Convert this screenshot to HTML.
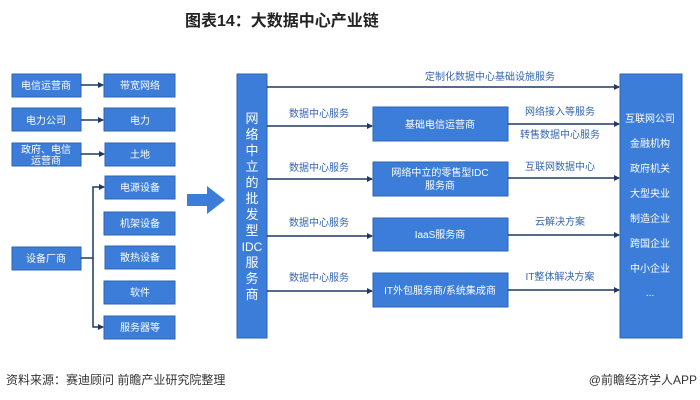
<!DOCTYPE html>
<html><head><meta charset="utf-8"><style>
body{margin:0;background:#fff;}
svg{display:block;font-family:"Liberation Sans","Noto Sans CJK SC",sans-serif;}
</style></head><body>
<svg width="700" height="400" viewBox="0 0 700 400">
<defs>
<marker id="a" markerWidth="6" markerHeight="6" refX="5" refY="3" orient="auto" markerUnits="userSpaceOnUse"><path d="M0,0 L6,3 L0,6 z" fill="#1f3864"/></marker>
</defs>
<text x="185" y="26" font-size="16" font-weight="bold" fill="#222">图表14：大数据中心产业链</text>
<g fill="#3b7dd8" stroke="#2e64b0" stroke-width="1">
<rect x="12" y="74" width="69" height="23"/>
<rect x="12" y="108" width="69" height="23"/>
<rect x="12" y="143" width="69" height="23"/>
<rect x="12" y="247" width="69" height="23"/>
<rect x="104" y="74" width="71" height="23"/>
<rect x="104" y="108" width="71" height="23"/>
<rect x="105" y="143" width="70" height="23"/>
<rect x="105" y="176" width="70" height="23"/>
<rect x="104" y="212" width="71" height="23"/>
<rect x="105" y="246" width="70" height="23"/>
<rect x="104" y="281" width="71" height="23"/>
<rect x="104" y="316" width="71" height="23"/>
<rect x="237" y="74" width="30" height="264"/>
<rect x="620" y="74" width="62" height="264"/>
<rect x="373" y="107" width="135" height="34"/>
<rect x="373" y="162" width="135" height="34"/>
<rect x="373" y="218" width="135" height="33"/>
<rect x="373" y="273" width="135" height="34"/>
</g>
<path d="M187,194 H207 V186 L225,200 L207,214 V206 H187 z" fill="#3b7dd8"/>
<g stroke="#1f3864" stroke-width="1.5" fill="none" marker-end="url(#a)">
<line x1="81" y1="85" x2="103" y2="85"/>
<line x1="81" y1="120" x2="103" y2="120"/>
<line x1="81" y1="154" x2="104" y2="154"/>
<path d="M81,258 H93 V187 H104"/>
<path d="M93,258 V327 H103"/>
<line x1="267" y1="87" x2="619" y2="87"/>
<line x1="267" y1="126" x2="372" y2="126"/>
<line x1="267" y1="179" x2="372" y2="179"/>
<line x1="267" y1="236" x2="372" y2="236"/>
<line x1="267" y1="291" x2="372" y2="291"/>
<line x1="508" y1="124" x2="619" y2="124"/>
<line x1="508" y1="178" x2="619" y2="178"/>
<line x1="508" y1="235" x2="619" y2="235"/>
<line x1="508" y1="290" x2="619" y2="290"/>
</g>
<g fill="#fff" font-size="10" text-anchor="middle">
<text x="46" y="89">电信运营商</text>
<text x="46" y="124">电力公司</text>
<text x="46" y="153">政府、电信</text>
<text x="46" y="164">运营商</text>
<text x="46" y="262">设备厂商</text>
<text x="140" y="89">带宽网络</text>
<text x="140" y="124">电力</text>
<text x="140" y="158">土地</text>
<text x="140" y="191">电源设备</text>
<text x="140" y="227">机架设备</text>
<text x="140" y="261">散热设备</text>
<text x="140" y="296">软件</text>
<text x="140" y="331">服务器等</text>
<text x="440" y="128">基础电信运营商</text>
<text x="440" y="176">网络中立的零售型IDC</text>
<text x="440" y="189">服务商</text>
<text x="440" y="238">IaaS服务商</text>
<text x="440" y="294">IT外包服务商/系统集成商</text>
<text x="650" y="122">互联网公司</text>
<text x="650" y="147">金融机构</text>
<text x="650" y="172">政府机关</text>
<text x="650" y="197">大型央业</text>
<text x="650" y="222">制造企业</text>
<text x="650" y="247">跨国企业</text>
<text x="650" y="272">中小企业</text>
<text x="650" y="296">...</text>
</g>
<g fill="#fff" font-size="13" text-anchor="middle">
<text x="252" y="123">网</text><text x="252" y="139">络</text><text x="252" y="155">中</text><text x="252" y="171">立</text><text x="252" y="187">的</text><text x="252" y="203">批</text><text x="252" y="219">发</text><text x="252" y="235">型</text><text x="252" y="251" font-size="12">IDC</text><text x="252" y="267">服</text><text x="252" y="283">务</text><text x="252" y="299">商</text>
</g>
<g fill="#3566b0" font-size="10" text-anchor="middle">
<text x="490" y="80">定制化数据中心基础设施服务</text>
<text x="319" y="117">数据中心服务</text>
<text x="319" y="171">数据中心服务</text>
<text x="319" y="226">数据中心服务</text>
<text x="319" y="281">数据中心服务</text>
<text x="560" y="115">网络接入等服务</text>
<text x="560" y="138">转售数据中心服务</text>
<text x="560" y="170">互联网数据中心</text>
<text x="560" y="225">云解决方案</text>
<text x="560" y="280">IT整体解决方案</text>
</g>
<text x="6" y="384" font-size="12" fill="#333">资料来源：赛迪顾问 前瞻产业研究院整理</text>
<text x="697" y="384" font-size="12" fill="#333" text-anchor="end">@前瞻经济学人APP</text>
</svg>
</body></html>
